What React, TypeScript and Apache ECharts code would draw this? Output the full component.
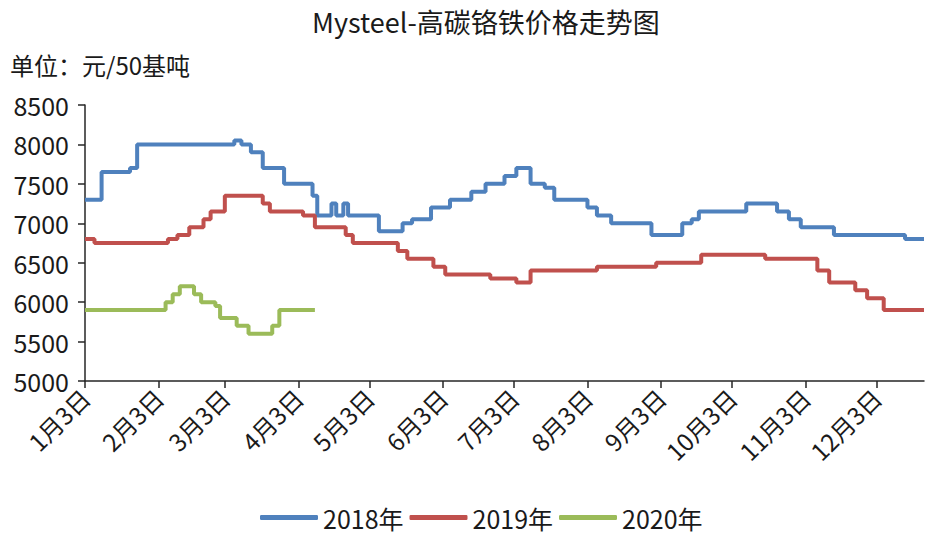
import React, { useEffect, useRef } from "react";
import * as echarts from "echarts";

const TITLE = "Mysteel-高碳铬铁价格走势图";
const UNIT = "单位：元/50基吨";
const SERIES_NAMES = ["2018年", "2019年", "2020年"];
const COLORS = ["#4F81BD", "#C0504D", "#9BBB59"];

const MONTH_DAYS = [31, 28, 31, 30, 31, 30, 31, 31, 30, 31, 30, 31];
const START = [1, 3];
const END = [12, 23];

// Change points: [date, price] (step lines)
const series2018: [string, number][] = [
  ["1月3日", 7300], ["1月10日", 7650], ["1月22日", 7700], ["1月25日", 8000],
  ["3月7日", 8050], ["3月10日", 8000], ["3月14日", 7900], ["3月19日", 7700],
  ["3月28日", 7500], ["4月9日", 7350], ["4月11日", 7100], ["4月17日", 7250],
  ["4月19日", 7100], ["4月22日", 7250], ["4月24日", 7100], ["5月7日", 6900],
  ["5月17日", 7000], ["5月21日", 7050], ["5月29日", 7200], ["6月6日", 7300],
  ["6月15日", 7400], ["6月21日", 7500], ["6月29日", 7600], ["7月4日", 7700],
  ["7月10日", 7500], ["7月16日", 7450], ["7月20日", 7300], ["8月3日", 7200],
  ["8月7日", 7100], ["8月13日", 7000], ["8月30日", 6850], ["9月12日", 7000],
  ["9月16日", 7050], ["9月19日", 7150], ["10月9日", 7250], ["10月22日", 7150],
  ["10月27日", 7050], ["11月1日", 6950], ["11月15日", 6850], ["12月15日", 6800],
  ["12月23日", 6800],
];

const series2019: [string, number][] = [
  ["1月3日", 6800], ["1月7日", 6750], ["2月7日", 6800], ["2月11日", 6850],
  ["2月16日", 6950], ["2月22日", 7050], ["2月25日", 7150], ["3月3日", 7350],
  ["3月19日", 7250], ["3月22日", 7150], ["4月5日", 7100], ["4月10日", 6950],
  ["4月23日", 6850], ["4月26日", 6750], ["5月15日", 6650], ["5月19日", 6550],
  ["5月30日", 6450], ["6月4日", 6350], ["6月23日", 6300], ["7月4日", 6250],
  ["7月10日", 6400], ["8月7日", 6450], ["9月1日", 6500], ["9月20日", 6600],
  ["10月17日", 6550], ["11月8日", 6400], ["11月13日", 6250], ["11月24日", 6150],
  ["11月29日", 6050], ["12月6日", 5900], ["12月23日", 5900],
];

const series2020: [string, number][] = [
  ["1月3日", 5900], ["2月6日", 6000], ["2月9日", 6100], ["2月12日", 6200],
  ["2月18日", 6100], ["2月21日", 6000], ["2月27日", 5950], ["3月1日", 5800],
  ["3月8日", 5700], ["3月13日", 5600], ["3月23日", 5700], ["3月26日", 5900],
  ["4月10日", 5900],
];

const Y_MIN = 5000;
const Y_MAX = 8500;
const Y_INTERVAL = 500;

function buildCategories(): string[] {
  const out: string[] = [];
  for (let m = START[0]; m <= END[0]; m++) {
    const first = m === START[0] ? START[1] : 1;
    const last = m === END[0] ? END[1] : MONTH_DAYS[m - 1];
    for (let d = first; d <= last; d++) out.push(`${m}月${d}日`);
  }
  return out;
}

const FONT = "'Noto Sans CJK SC', 'Noto Sans', sans-serif";

export default function App() {
  const ref = useRef<HTMLDivElement>(null);
  useEffect(() => {
    if (!ref.current) return;
    const chart = echarts.init(ref.current, undefined, { renderer: "svg" });
    const categories = buildCategories();
    const isMonthThird = (_i: number, v: string) => /^\d+月3日$/.test(v);
    const datasets = [series2018, series2019, series2020];
    chart.setOption({
      animation: false,
      backgroundColor: "#ffffff",
      textStyle: { fontFamily: FONT },
      title: {
        text: TITLE,
        left: 307,
        top: 3,
        textStyle: { fontSize: 27, fontWeight: "normal", color: "#1a1a1a", fontFamily: FONT },
      },
      graphic: [
        {
          type: "text",
          left: 10,
          top: 52,
          style: { text: UNIT, fontSize: 24, fill: "#1a1a1a", fontFamily: FONT },
        },
      ],
      legend: {
        bottom: 3,
        left: 255,
        icon: "roundRect",
        itemWidth: 58,
        itemHeight: 5,
        itemGap: 6,
        textStyle: { fontSize: 25, color: "#1a1a1a", fontFamily: FONT },
        data: SERIES_NAMES,
      },
      grid: { left: 85, top: 105, right: 1, bottom: 157, containLabel: false },
      xAxis: {
        type: "category",
        data: categories,
        boundaryGap: false,
        axisLine: { lineStyle: { color: "#262626", width: 1.5 } },
        axisTick: { interval: isMonthThird, length: 7, lineStyle: { color: "#262626", width: 1.5 } },
        axisLabel: {
          interval: isMonthThird,
          rotate: 45,
          fontSize: 24,
          color: "#1a1a1a",
          margin: 12,
          fontFamily: FONT,
        },
        splitLine: { show: false },
      },
      yAxis: {
        type: "value",
        min: Y_MIN,
        max: Y_MAX,
        interval: Y_INTERVAL,
        axisLine: { show: true, lineStyle: { color: "#262626", width: 1.5 } },
        axisTick: { show: true, length: 7, lineStyle: { color: "#262626", width: 1.5 } },
        axisLabel: {
          fontSize: 25,
          color: "#1a1a1a",
          margin: 16,
          fontFamily: FONT,
          formatter: (v: number) => String(v),
        },
        splitLine: { show: false },
      },
      series: SERIES_NAMES.map((name, i) => ({
        name,
        type: "line",
        step: "end",
        data: datasets[i],
        showSymbol: false,
        symbol: "none",
        itemStyle: { color: COLORS[i] },
        lineStyle: { color: COLORS[i], width: 4 },
      })),
    });
    return () => chart.dispose();
  }, []);
  return (
    <div
      ref={ref}
      style={{ position: "fixed", left: 0, top: 0, width: 925, height: 538, background: "#fff" }}
    />
  );
}
